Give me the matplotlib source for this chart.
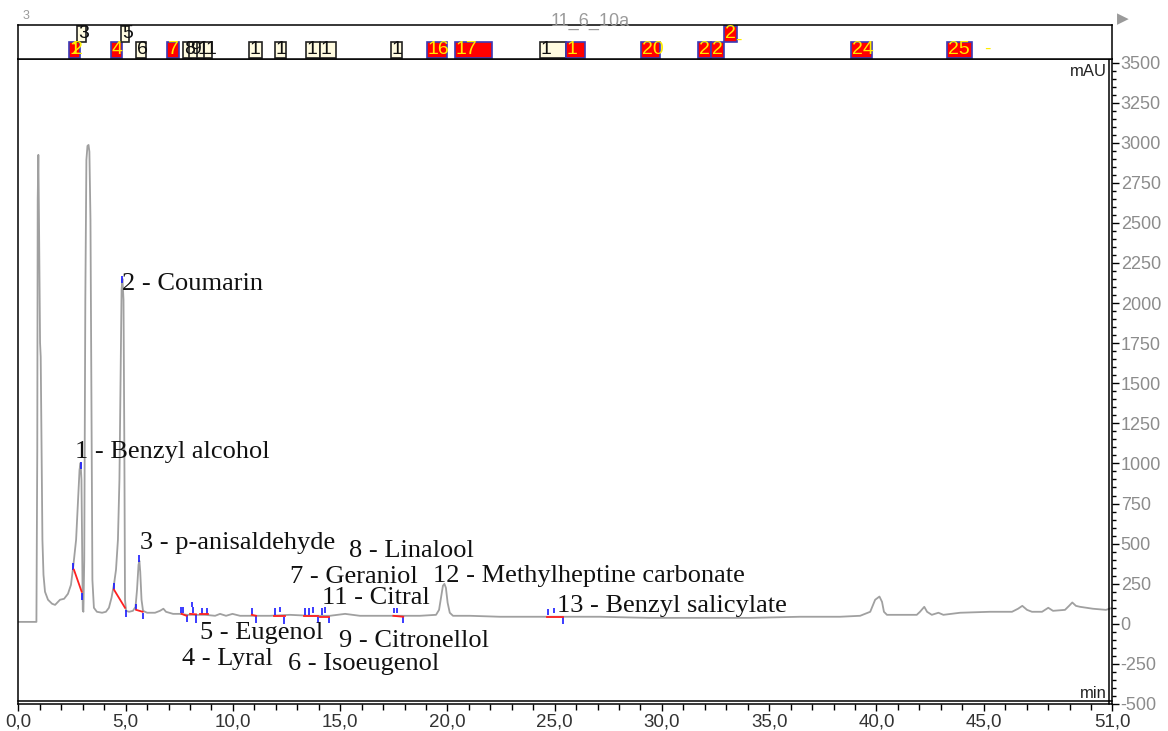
import matplotlib.pyplot as plt
from matplotlib.patches import Rectangle
from matplotlib.ticker import MultipleLocator, FixedLocator, FuncFormatter

plt.rcParams['axes.unicode_minus'] = False

# detector trace, time (min) / signal (mAU)
trace_t = [0.00, 0.84, 0.88, 0.90, 0.93, 0.96, 1.01, 1.04, 1.08, 1.12, 1.17, 1.24, 1.38, 1.57,
           1.71, 1.85, 1.94, 2.13, 2.31, 2.45, 2.56, 2.69, 2.78, 2.85, 2.90, 2.94, 2.98, 3.00,
           3.03, 3.07, 3.12, 3.17, 3.22, 3.27, 3.31, 3.36, 3.41, 3.45, 3.52, 3.66, 3.90, 4.08,
           4.22, 4.34, 4.46, 4.55, 4.64, 4.71, 4.76, 4.81, 4.85, 4.90, 4.94, 4.97, 5.02, 5.16,
           5.34, 5.46, 5.53, 5.60, 5.64, 5.68, 5.74, 5.81, 6.00, 6.37, 6.60, 6.76, 6.88, 7.21,
           7.53, 7.86, 8.23, 8.70, 9.17, 9.40, 9.68, 9.98, 10.33, 11.03, 11.73, 12.66, 13.59,
           14.52, 15.23, 15.92, 16.86, 17.79, 18.72, 19.47, 19.61, 19.70, 19.79, 19.86, 19.93,
           20.01, 20.11, 20.26, 21.05, 22.45, 23.85, 25.25, 27.11, 29.44, 31.78, 34.11, 36.44,
           38.30, 39.24, 39.71, 39.94, 40.14, 40.26, 40.35, 40.49, 41.10, 41.88, 42.03, 42.23,
           42.36, 42.58, 42.89, 43.12, 43.90, 45.29, 46.32, 46.60, 46.80, 47.02, 47.25, 47.72,
           48.01, 48.23, 48.79, 48.98, 49.13, 49.30, 49.49, 50.09, 50.70, 51.00]
trace_y = [12, 12, 1085, 2643, 2924, 2519, 1752, 1665, 1085, 524, 305, 200, 150, 125,
           118, 137, 150, 156, 187, 243, 362, 524, 773, 960, 1004, 898, 399, 87,
           75, 399, 2020, 2893, 2980, 2986, 2943, 2519, 1272, 274, 100, 75, 69, 75,
           100, 162, 249, 337, 524, 898, 1521, 2082, 2151, 2020, 1085, 150, 81, 75,
           81, 106, 212, 368, 393, 324, 150, 81, 69, 69, 81, 94, 75, 62,
           62, 56, 56, 56, 50, 62, 50, 62, 50, 50, 50, 56, 50,
           50, 62, 50, 50, 50, 50, 56, 87, 162, 237, 249, 224,
           131, 69, 50, 50, 44, 44, 44, 44, 37, 37, 37, 44,
           44, 50, 75, 150, 170, 137, 75, 56, 56, 56, 75, 106,
           75, 56, 69, 56, 69, 75, 75, 94, 112, 87, 75, 75,
           100, 81, 87, 112, 133, 112, 106, 94, 87, 100]

# peak names
label_text = ["1 - Benzyl alcohol", "2 - Coumarin", "3 - p-anisaldehyde", "8 - Linalool",
              "7 - Geraniol", "12 - Methylheptine carbonate", "11 - Citral",
              "13 - Benzyl salicylate", "5 - Eugenol", "9 - Citronellol", "4 - Lyral",
              "6 - Isoeugenol"]
label_t = [2.64, 4.83, 5.67, 15.41, 12.66, 19.33, 14.15, 25.11, 8.47, 14.95, 7.63, 12.57]
label_y = [1072, 2120, 505, 455, 293, 299, 162, 112, -56, -106, -218, -249]

# integration marks: blue ticks (t, y_low, y_high)
tick_t = [2.90, 4.85, 5.61, 2.56, 2.95, 4.46, 5.00, 5.47, 5.79, 7.57, 7.66, 7.87, 8.08,
          8.15, 8.28, 8.55, 8.78, 10.88, 11.08, 11.96, 12.20, 12.40, 13.36, 13.56, 13.75,
          13.98, 14.14, 14.29, 14.49, 17.51, 17.64, 17.94, 24.70, 24.97, 25.38]
tick_lo = [966, 2126, 387, 337, 150, 212, 44, 87, 31, 69, 69, 12, 106,
           69, 6, 62, 62, 56, 6, 56, 75, 0, 56, 56, 69,
           6, 56, 69, 6, 69, 69, 6, 56, 69, 0]
tick_hi = [1010, 2170, 430, 380, 193, 256, 87, 125, 69, 106, 106, 56, 137,
           106, 56, 100, 100, 100, 50, 100, 106, 44, 100, 100, 106,
           44, 100, 106, 44, 100, 100, 44, 94, 100, 44]

# baselines drawn under the peaks
base_t0 = [2.59, 4.46, 5.49, 7.61, 8.00, 8.47, 10.88, 11.93, 13.32, 14.06, 17.48, 24.66]
base_y0 = [337, 212, 87, 62, 62, 60, 56, 50, 50, 45, 50, 45]
base_t1 = [2.95, 4.97, 5.79, 7.84, 8.28, 8.86, 11.08, 12.43, 13.98, 14.49, 17.94, 25.38]
base_y1 = [200, 100, 75, 50, 59, 60, 50, 50, 50, 45, 44, 45]

# peak boxes in the strip above: left, right, row, text, identified?
box_l = [2.36, 2.73, 4.32, 4.78, 5.48, 6.93, 7.67, 7.95, 8.33, 8.66, 10.75, 11.96, 13.41,
         14.06, 17.37, 19.05, 20.35, 24.32, 25.53, 29.02, 31.68, 32.29, 32.90, 38.82, 43.29]
box_r = [2.87, 3.15, 4.83, 5.16, 5.95, 7.49, 8.05, 8.42, 8.70, 9.03, 11.36, 12.48, 14.06,
         14.81, 17.88, 19.98, 22.08, 25.53, 26.42, 29.91, 32.29, 32.90, 33.50, 39.80, 44.46]
box_row = [0, 1, 0, 1, 0, 0, 0, 0, 0, 0, 0, 0, 0,
           0, 0, 0, 0, 0, 0, 0, 0, 0, 1, 0, 0]
box_txt = ["1", "3", "4", "5", "6", "7", "8", "9", "1", "1", "1", "1", "1",
           "1", "1", "16", "17", "1", "1", "20", "2", "2", "2", "24", "25"]
box_red = [1, 0, 1, 0, 0, 1, 0, 0, 0, 0, 0, 0, 0,
           0, 0, 1, 1, 0, 1, 1, 1, 1, 1, 1, 1]

fig = plt.figure(figsize=(11.68, 7.31), dpi=100)
ax = fig.add_axes([0.01575, 0.03694, 0.93665, 0.88236])
top = fig.add_axes([0.01575, 0.91930, 0.93665, 0.04651], sharex=ax)

ax.plot(trace_t, trace_y, color='#a0a0a0', lw=1.3, zorder=2)
ax.vlines(tick_t, tick_lo, tick_hi, color='#1a1aff', lw=1.2, zorder=3)
for i in range(len(base_t0)):
    ax.plot([base_t0[i], base_t1[i]], [base_y0[i], base_y1[i]], color='#ff2020', lw=1.3, zorder=3)

for s, t, y in zip(label_text, label_t, label_y):
    ax.text(t, y, s, family='Liberation Serif', fontsize=19, color='#111111',
            ha='left', va='center', zorder=4)

ax.set_xlim(0, 51)
ax.set_ylim(-500, 3522)

# axis look: values on the right, double lines at right and bottom
ax.yaxis.tick_right()
ax.yaxis.set_major_locator(FixedLocator(range(-500, 3501, 250)))
ax.yaxis.set_minor_locator(FixedLocator(range(-500, 3501, 50)))
ax.xaxis.set_major_locator(FixedLocator([0, 5, 10, 15, 20, 25, 30, 35, 40, 45, 51]))
ax.xaxis.set_minor_locator(MultipleLocator(1))
ax.xaxis.set_major_formatter(FuncFormatter(lambda v, p: f"{v:.1f}".replace('.', ',')))
ax.tick_params(axis='x', which='both', top=False, bottom=True, direction='out')
ax.tick_params(axis='y', which='both', left=False, right=True, direction='out')
ax.tick_params(axis='y', which='major', length=5, width=1, pad=1, labelsize=13,
               labelcolor='#8c8c8c', labelfontfamily='Liberation Sans')
ax.tick_params(axis='y', which='minor', length=3, width=1)
ax.tick_params(axis='x', which='major', length=5, width=1, pad=2, labelsize=13.5,
               labelcolor='#333333', labelfontfamily='Liberation Sans')
ax.tick_params(axis='x', which='minor', length=4, width=1)
for sp in ax.spines.values():
    sp.set_linewidth(1.1)
ax.plot([0.997, 0.997], [0, 1], transform=ax.transAxes, color='k', lw=1.1, clip_on=False)
ax.plot([0, 1], [0.004, 0.004], transform=ax.transAxes, color='k', lw=1.1, clip_on=False)

ax.text(0.995, 0.98, "mAU", transform=ax.transAxes, ha='right', va='center',
        fontsize=12, family='Liberation Sans', color='#222222')
ax.text(0.995, 0.017, "min", transform=ax.transAxes, ha='right', va='center',
        fontsize=12, family='Liberation Sans', color='#222222')

# strip with the peak boxes
top.set_ylim(0, 1)
top.xaxis.set_visible(False)
top.yaxis.set_visible(False)
for sp in top.spines.values():
    sp.set_linewidth(1.1)
for l, r, row, s, red in zip(box_l, box_r, box_row, box_txt, box_red):
    y0 = 0.02 + 0.48 * row
    if red:
        top.add_patch(Rectangle((l, y0), r - l, 0.47, facecolor='#ff0000',
                                edgecolor='#3a3ab8', lw=1.2))
        col = '#ffee00'
    else:
        top.add_patch(Rectangle((l, y0), r - l, 0.47, facecolor='#fffbe0',
                                edgecolor='#222222', lw=1.2))
        col = '#111111'
    top.text(l + 0.04, y0 + 0.0, s, color=col, fontsize=14, family='Liberation Sans',
             ha='left', va='bottom', zorder=5)
top.text(2.52, 0.02, "2", color='#ffee00', fontsize=14, family='Liberation Sans',
         ha='left', va='bottom', zorder=5)
top.text(33.40, 0.30, "-", color='#ffee00', fontsize=14, family='Liberation Sans',
         ha='left', va='bottom', zorder=5)
top.text(45.02, 0.04, "-", color='#ffee00', fontsize=14, family='Liberation Sans',
         ha='left', va='bottom', zorder=5)

fig.text(0.505, 0.9713, "11_6_10a", ha='center', va='center', fontsize=13,
         family='Liberation Sans', color='#9a9a9a')
fig.text(0.019, 0.978, "3", ha='left', va='center', fontsize=9,
         family='Liberation Sans', color='#9a9a9a')
fig.text(0.961, 0.975, "\u25b6", ha='center', va='center', fontsize=11, color='#9a9a9a')

fig.savefig('out.png', dpi=100)
